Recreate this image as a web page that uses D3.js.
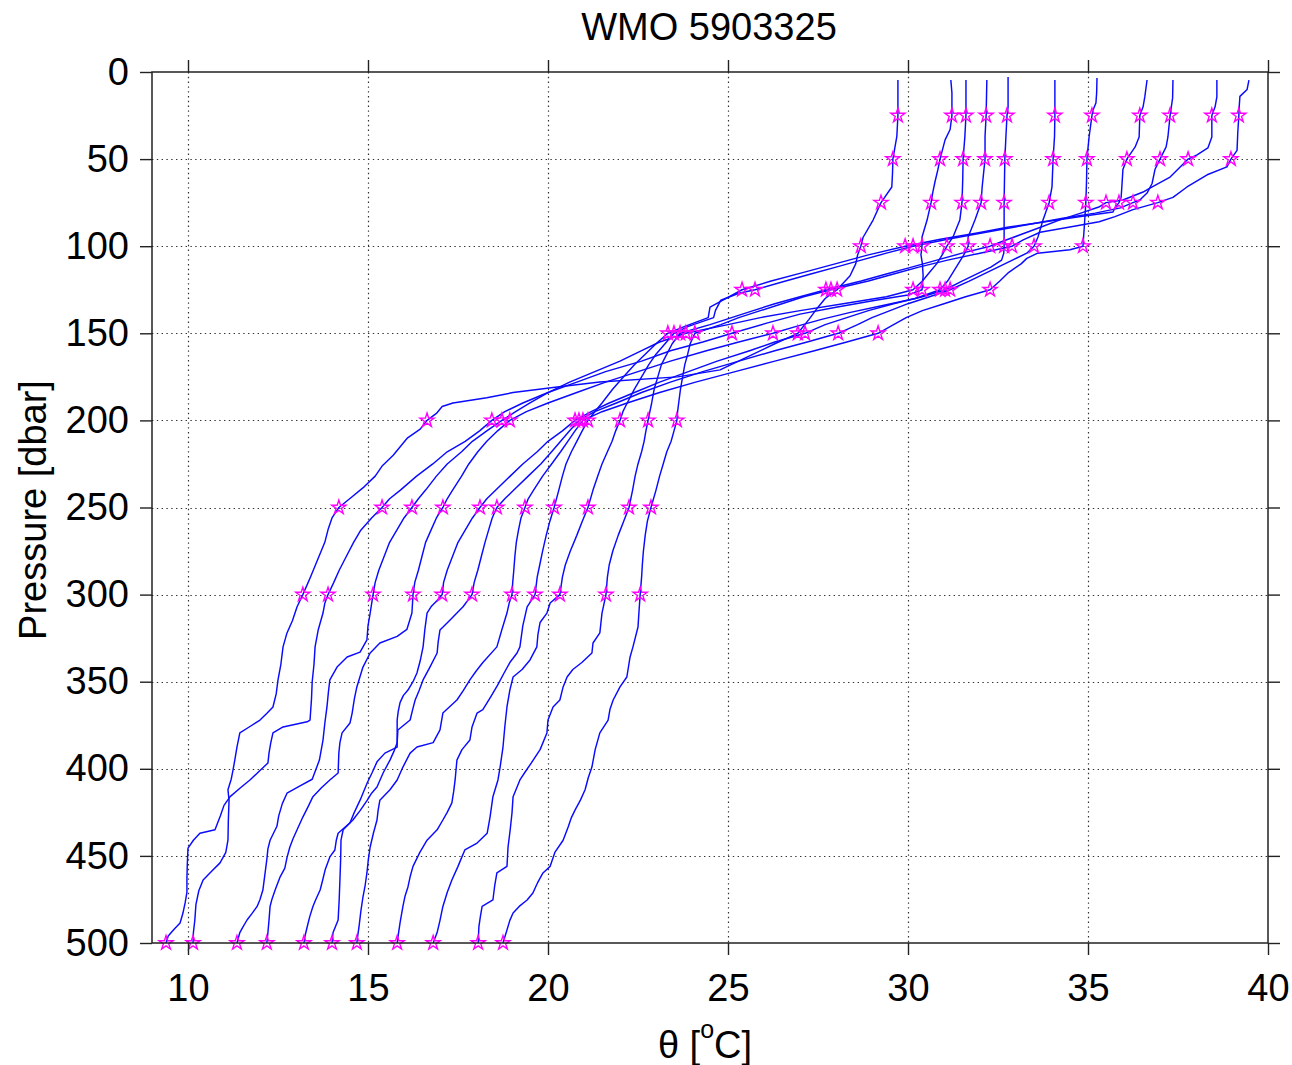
<!DOCTYPE html>
<html><head><meta charset="utf-8">
<script src="https://cdn.jsdelivr.net/npm/d3@7"></script>
<style>
body{margin:0;background:#fff}
svg{display:block}
text{font-family:"Liberation Sans",Arial,Helvetica,sans-serif;fill:#000}
</style>
</head><body>
<svg id="chart" width="1292" height="1065"></svg>
<script>
// ---- data: each profile is [pressure (dbar), theta (°C, plotted)] ----
const title = "WMO 5903325";
const xTicks = [10, 15, 20, 25, 30, 35, 40];
const yTicks = [0, 50, 100, 150, 200, 250, 300, 350, 400, 450, 500];
const starPressures = [25, 50, 75, 100, 125, 150, 200, 250, 300, 500];

const profile1 = [[4.6,29.72],[12,29.72],[25,29.72],[37,29.69],[50,29.58],[58,29.57],[66,29.55],[75,29.25],[85,29.03],[95,28.75],[100,28.69],[105,28.6],[110,28.55],[117,28.39],[125,28.03],[130,27.7],[135,27.5],[142,27.25],[150,26.94],[156,26.3],[163,25.6],[171,24.78],[175,23.6],[178,21.44],[181,20.2],[184,19.03],[187,18.3],[190,17.36],[192,17.06],[196,16.9],[200,16.64],[205,16.45],[210,16.1],[215,15.9],[220,15.7],[226,15.4],[232,15.2],[238,14.9],[244,14.55],[250,14.19],[256,14.0],[262,13.9],[270,13.8],[280,13.6],[290,13.4],[300,13.19],[307,13.03],[315,12.9],[322,12.75],[330,12.64],[340,12.58],[349,12.5],[357,12.45],[364.5,12.36],[368,12.2],[372,12.0],[376,11.7],[379.4,11.44],[387.5,11.36],[395,11.3],[400.7,11.25],[406,11.2],[412,11.11],[418,11.14],[430,11.12],[441,11.11],[448,11.05],[454,10.89],[459,10.65],[463.8,10.42],[470,10.3],[478,10.22],[486.8,10.19],[494,10.15],[500,10.14]];
const profile2 = [[4.6,31.19],[12,31.22],[25,31.22],[33,31.17],[39,31.03],[50,30.89],[56,30.83],[63,30.75],[69,30.69],[75,30.64],[85,30.53],[94.7,30.39],[100,30.39],[105,30.36],[110,30.4],[117,30.42],[122,30.4],[125,30.39],[128,30.0],[131,29.1],[135,28.0],[139,27.0],[144,26.1],[150,25.11],[155,24.3],[160,23.4],[166,22.6],[172,21.6],[178,20.8],[184,20.0],[190,19.3],[195,18.8],[200,18.44],[206,18.1],[212,17.7],[218,17.2],[225,16.8],[232,16.35],[240,15.9],[245,15.6],[250,15.39],[256,15.1],[263,14.8],[270,14.6],[278,14.4],[286,14.2],[293,14.05],[300,13.89],[305,13.8],[310.6,13.75],[320,13.62],[330,13.53],[340,13.5],[350,13.45],[360,13.43],[372,13.39],[373,13.31],[376,12.64],[379.4,12.36],[385,12.3],[391,12.25],[396.7,12.22],[401,12.0],[406.4,11.72],[411,11.45],[416,11.17],[421,11.0],[427,10.9],[435,10.75],[437,10.33],[441,10.15],[445.5,10.0],[455,9.98],[463,9.97],[471,9.97],[477,9.92],[482.8,9.86],[488.5,9.78],[492,9.62],[496,9.45],[500,9.39]];
const profile3 = [[4.6,31.61],[15,31.61],[25,31.61],[37,31.58],[50,31.53],[62,31.52],[75,31.5],[85,31.44],[94.7,31.25],[100,31.08],[105,30.95],[110,30.8],[115,30.6],[120,30.4],[125,30.14],[129,29.4],[133,28.2],[137,27.0],[141,25.9],[145,25.0],[150,23.83],[155,23.1],[160,22.6],[166,22.0],[172,21.3],[178,20.6],[184,20.0],[190,19.5],[195,19.1],[200,18.72],[206,18.3],[212,17.9],[218,17.6],[225,17.2],[232,16.9],[240,16.6],[245,16.4],[250,16.22],[256,16.0],[263,15.8],[270,15.6],[278,15.45],[286,15.3],[293,15.2],[300,15.14],[310.6,15.06],[318,15.0],[326,14.97],[333,14.78],[335.8,14.42],[341.6,14.14],[349,13.94],[356,13.9],[364.5,13.86],[374,13.8],[383.5,13.75],[395,13.65],[406,13.45],[410,13.1],[414,12.75],[420,12.62],[427,12.52],[433,12.47],[441,12.28],[446,12.22],[452,12.19],[460,12.14],[469.6,12.08],[475,12.0],[479,11.92],[483,11.78],[486.8,11.64],[491,11.52],[494,11.44],[500,11.36]];
const profile4 = [[4.6,32.19],[15,32.18],[25,32.17],[37,32.14],[50,32.14],[66,32.06],[75,32.03],[85,31.86],[94.7,31.67],[100,31.67],[105,31.55],[110,31.4],[115,31.25],[120,31.1],[125,30.89],[130,30.2],[134,29.3],[138,28.4],[142,27.6],[146,26.9],[150,26.25],[155,25.3],[160,24.4],[166,23.4],[172,22.5],[178,21.6],[184,20.8],[190,20.0],[195,19.4],[200,18.94],[206,18.6],[212,18.3],[218,18.05],[225,17.8],[232,17.6],[240,17.35],[245,17.2],[250,17.08],[256,16.9],[263,16.75],[270,16.6],[278,16.5],[286,16.4],[293,16.3],[300,16.25],[310.6,16.22],[320,16.08],[324,15.81],[327.8,15.33],[333.5,15.06],[341.6,14.86],[353,14.69],[360,14.62],[368,14.56],[373.7,14.5],[379.4,14.28],[385,14.22],[391,14.19],[402.4,14.17],[406.4,13.94],[411,13.7],[416,13.47],[422,13.33],[427.7,13.19],[435,13.03],[440,12.92],[444.9,12.83],[451,12.75],[457,12.69],[462,12.56],[469.6,12.42],[475,12.33],[479,12.28],[487,12.25],[494,12.22],[500,12.19]];
const profile5 = [[2.9,32.78],[12,32.78],[20,32.78],[25,32.75],[37,32.72],[50,32.69],[62,32.68],[75,32.67],[88,32.67],[100,32.67],[104,32.66],[108,32.6],[112,32.3],[116,31.9],[120,31.5],[125,31.03],[129,30.4],[133,29.6],[137,28.9],[141,28.3],[145,27.7],[150,27.14],[155,26.3],[160,25.6],[166,24.7],[172,23.9],[178,23.1],[184,22.4],[190,21.7],[195,21.2],[200,20.75],[206,20.4],[212,20.0],[218,19.7],[225,19.3],[232,18.95],[240,18.55],[245,18.3],[250,18.11],[256,17.9],[263,17.7],[270,17.5],[278,17.35],[286,17.2],[293,17.1],[300,17.06],[303,16.94],[307,16.75],[310.6,16.64],[320,16.58],[330,16.53],[338,16.45],[345,16.36],[350,16.25],[354.8,16.11],[358,15.98],[362,15.89],[367,15.84],[372,15.81],[380,15.81],[387.5,15.81],[391,15.47],[396,15.25],[402.4,15.11],[408,14.98],[414,14.86],[418,14.78],[425,14.62],[431,14.5],[437,14.17],[441,14.12],[446.6,14.08],[450.6,13.94],[458,13.81],[464,13.74],[469.6,13.67],[475,13.55],[479,13.47],[485,13.38],[490.8,13.31],[496,13.25],[500,13.22]];
const profile6 = [[4.6,34.08],[15,34.08],[25,34.08],[37,34.07],[50,34.03],[66,34.0],[75,33.92],[85,33.75],[94.7,33.61],[100,33.5],[104,33.3],[108,32.9],[112,32.5],[116,32.1],[120,31.7],[125,31.17],[129,30.6],[133,30.0],[137,29.5],[141,29.0],[145,28.6],[150,28.06],[155,27.2],[160,26.3],[166,25.3],[172,24.3],[178,23.4],[184,22.6],[190,21.9],[195,21.3],[200,20.86],[206,20.6],[212,20.35],[218,20.1],[225,19.8],[232,19.45],[240,19.05],[245,18.8],[250,18.58],[256,18.45],[263,18.35],[270,18.25],[278,18.15],[286,18.05],[293,17.95],[300,17.89],[307,17.64],[314.6,17.28],[320.3,17.0],[327,16.95],[333.5,16.92],[341.6,16.72],[349,16.53],[355,16.42],[360.5,16.31],[366,16.24],[372,16.17],[377.7,15.83],[385,15.81],[390,15.72],[395,15.61],[402.4,15.42],[410.4,15.25],[414,15.1],[418,14.98],[424,14.78],[429.4,14.58],[435,14.31],[441,14.25],[452,14.24],[463.8,14.22],[475,14.2],[486.8,14.17],[494,14.03],[500,14.0]];
const profile7 = [[3.4,35.25],[12,35.24],[17.8,35.22],[21.8,35.14],[25,35.11],[37.3,35.03],[50,34.97],[62,34.96],[75,34.94],[88,34.9],[100,34.86],[102,34.5],[104,33.6],[107,33.3],[110,33.15],[115,32.8],[120,32.55],[125,32.28],[129,31.6],[133,31.0],[137,30.4],[141,29.95],[145,29.6],[150,29.17],[155,28.3],[160,27.4],[166,26.3],[172,25.2],[178,24.1],[184,23.1],[190,22.2],[195,21.5],[200,20.97],[206,20.75],[212,20.55],[218,20.35],[225,20.1],[232,19.85],[240,19.6],[245,19.45],[250,19.36],[256,19.25],[263,19.18],[270,19.12],[278,19.08],[286,19.05],[293,19.02],[300,19.0],[305,18.92],[310.6,18.86],[320,18.72],[330,18.58],[339,18.19],[344,18.0],[349,17.83],[355,17.65],[360.5,17.47],[368,17.08],[377.7,17.0],[385,16.81],[387.5,16.36],[391,16.17],[399,15.97],[406.4,15.81],[412,15.61],[418,15.33],[424,15.28],[429.4,15.25],[437,15.15],[444.9,15.06],[452,15.01],[459.8,14.97],[467,14.92],[473.6,14.86],[482,14.8],[490.8,14.75],[495,14.72],[500,14.69]];
const profile8 = [[4.6,36.64],[14,36.58],[20,36.53],[25,36.44],[37.3,36.42],[43,36.31],[49,36.11],[50,36.08],[56,35.97],[66,35.94],[72,35.92],[75,35.86],[78,35.75],[80.4,35.69],[83,34.8],[86.7,33.58],[89,32.8],[92.4,31.92],[96,30.9],[100,29.92],[105,28.9],[110,28.0],[115,27.1],[120,26.2],[125,25.39],[130,24.95],[135,24.5],[141,24.45],[146,23.8],[150,23.33],[156,23.0],[162,22.7],[168,22.4],[175,22.1],[182,21.8],[190,21.5],[195,21.3],[200,21.11],[206,20.95],[212,20.8],[218,20.65],[225,20.5],[232,20.4],[240,20.3],[250,20.17],[258,20.05],[266,19.95],[275,19.85],[283,19.77],[290,19.7],[300,19.64],[307,19.42],[318,19.3],[330,19.22],[333.5,19.14],[339,18.94],[345,18.78],[352,18.6],[359,18.4],[366,18.19],[368,18.03],[376,17.89],[383.5,17.83],[389,17.61],[395,17.47],[406.4,17.42],[413,17.38],[419.6,17.33],[425,17.2],[429.4,17.08],[435,16.92],[441,16.64],[448,16.44],[456,16.25],[462,16.17],[467.8,16.11],[473,16.03],[479,15.97],[488.5,15.89],[494,15.85],[500,15.81]];
const profile9 = [[4.6,37.36],[15,37.35],[25,37.28],[37.3,37.22],[43,37.17],[50,37.0],[56,36.86],[64,36.78],[69.5,36.64],[73.5,36.44],[75,36.25],[78,35.9],[81,35.2],[84,34.3],[87,33.5],[90,32.7],[93,31.9],[96,31.1],[100,30.14],[104,29.4],[108,28.7],[112,28.0],[116,27.3],[120,26.6],[125,25.75],[127,25.3],[131,24.8],[137,24.65],[141,24.6],[146,23.9],[150,23.5],[156,23.25],[162,23.0],[168,22.8],[175,22.6],[182,22.4],[190,22.2],[195,22.08],[200,22.0],[206,21.88],[212,21.78],[218,21.65],[225,21.5],[232,21.38],[240,21.25],[250,21.11],[258,20.95],[266,20.8],[275,20.62],[283,20.48],[290,20.4],[300,20.33],[304.8,20.06],[310.6,19.97],[316,19.78],[323,19.72],[330,19.69],[337.5,19.5],[343,19.28],[347.3,19.03],[354.8,18.94],[364.5,18.86],[376,18.8],[387.5,18.75],[399,18.67],[406.4,18.61],[416,18.47],[427.7,18.39],[437,18.31],[442.6,18.03],[446.6,17.69],[451,17.6],[456,17.5],[463.8,17.33],[471,17.2],[479,17.08],[487,17.0],[494,16.92],[500,16.81]];
const profile10 = [[4.6,38.58],[14.3,38.58],[20,38.53],[25,38.44],[37.3,38.44],[43.6,38.33],[47.6,38.03],[50,37.78],[54.5,37.56],[60.3,37.28],[66.6,36.72],[68.9,36.53],[73.5,35.97],[75,35.5],[77.5,35.3],[81,34.8],[85,34.2],[89,33.7],[93.6,33.1],[97,32.65],[100,32.28],[104,31.5],[108,30.8],[112,30.1],[116,29.4],[120,28.7],[125,27.72],[129,27.0],[133,26.3],[137,25.7],[141,25.1],[145,24.5],[150,23.67],[156,23.45],[162,23.3],[168,23.15],[175,23.05],[182,22.95],[190,22.88],[195,22.83],[200,22.78],[206,22.72],[212,22.67],[218,22.6],[225,22.5],[232,22.42],[240,22.35],[250,22.25],[258,22.1],[266,21.95],[275,21.8],[283,21.7],[290,21.65],[300,21.61],[310.6,21.5],[322,21.44],[327.8,21.25],[333.5,21.22],[339,20.94],[343,20.69],[347.3,20.53],[353,20.42],[360.5,20.33],[364.5,20.14],[372,20.0],[379.4,19.97],[389,19.78],[397.8,19.5],[402,19.36],[406.4,19.22],[416,19.03],[425.4,19.0],[435,18.95],[444.9,18.89],[456,18.86],[459.8,18.58],[467,18.52],[475.3,18.47],[479,18.17],[485,18.12],[490.8,18.08],[500,18.06]];
const profile11 = [[4.6,39.47],[10,39.42],[14,39.22],[20,39.2],[25,39.19],[35,39.16],[45,39.14],[50,38.97],[54.5,38.86],[59,38.31],[66,37.75],[72,37.36],[75,36.94],[79,36.25],[83,35.75],[86,35.31],[89,34.5],[92,33.67],[96.4,33.2],[100,32.89],[104,32.0],[108,31.1],[112,30.3],[116,29.6],[120,28.9],[125,27.86],[129,27.1],[133,26.5],[137,25.9],[141,25.3],[145,24.8],[150,24.08],[156,23.95],[162,23.88],[168,23.8],[175,23.74],[182,23.68],[190,23.63],[195,23.6],[200,23.58],[206,23.5],[212,23.42],[218,23.3],[225,23.2],[232,23.1],[240,23.0],[250,22.86],[258,22.76],[266,22.7],[275,22.65],[283,22.62],[290,22.6],[300,22.56],[309,22.53],[318.6,22.5],[330,22.36],[335.8,22.28],[347.3,22.19],[353,22.0],[360.5,21.81],[366,21.72],[372,21.67],[379.4,21.44],[389,21.31],[399,21.22],[405,21.12],[412,21.03],[418,20.9],[423.7,20.75],[428,20.65],[433.4,20.56],[441,20.42],[448,20.19],[456,20.06],[459.8,19.86],[465,19.72],[471.3,19.58],[475.3,19.42],[479,19.2],[482.8,19.03],[487,18.94],[492.5,18.86],[500,18.75]];

const profiles = [profile1, profile2, profile3, profile4, profile5, profile6,
                  profile7, profile8, profile9, profile10, profile11];

// ---- drawing ----
const svg = d3.select("#chart");
const L = 152, R = 1268, T = 72, B = 943;
const x = d3.scaleLinear().domain([9, 40]).range([L, R]);
const y = d3.scaleLinear().domain([0, 500]).range([T, B]);
const fs = 38;

// grid
const grid = svg.append("g").attr("stroke", "#333").attr("stroke-width", 1.2)
  .attr("stroke-dasharray", "1.4,3.4");
grid.selectAll("line.vx").data(xTicks.filter(d => d < 40)).enter().append("line")
  .attr("x1", d => Math.round(x(d)) + 0.5).attr("x2", d => Math.round(x(d)) + 0.5)
  .attr("y1", T).attr("y2", B);
grid.selectAll("line.hy").data(yTicks.filter(d => d > 0 && d < 500)).enter().append("line")
  .attr("x1", L).attr("x2", R)
  .attr("y1", d => Math.round(y(d)) + 0.5).attr("y2", d => Math.round(y(d)) + 0.5);

// profiles
const line = d3.line().x(d => x(d[1])).y(d => y(d[0]));
svg.append("g").selectAll("path").data(profiles).enter().append("path")
  .attr("d", line).attr("fill", "none").attr("stroke", "#0a0aff")
  .attr("stroke-width", 1.45).attr("stroke-linejoin", "round");

// stars
const starPath = d3.symbol().type(d3.symbolStar).size(62)();
const starPts = profiles.flatMap(pr => pr.filter(d => starPressures.includes(d[0])));
svg.append("g").selectAll("path").data(starPts).enter().append("path")
  .attr("d", starPath)
  .attr("transform", d => `translate(${x(d[1])},${y(d[0])})`)
  .attr("fill", "none").attr("stroke", "#ff00ff").attr("stroke-width", 1.4);

// axes
function styleAxis(g) {
  g.select(".domain").remove();
  g.selectAll(".tick line").attr("stroke", "#222").attr("stroke-width", 1.4);
  g.selectAll(".tick text").attr("font-size", fs)
    .attr("font-family", '"Liberation Sans",Arial,sans-serif').attr("fill", "#000");
}
svg.append("g").attr("transform", `translate(0,${B})`)
  .call(d3.axisBottom(x).tickValues(xTicks).tickSize(12).tickPadding(19).tickFormat(d3.format("d")))
  .call(styleAxis);
svg.append("g").attr("transform", `translate(0,${T})`)
  .call(d3.axisTop(x).tickValues(xTicks).tickSize(12).tickFormat(""))
  .call(styleAxis);
svg.append("g").attr("transform", `translate(${L},0)`)
  .call(d3.axisLeft(y).tickValues(yTicks).tickSize(12).tickPadding(11).tickFormat(d3.format("d")))
  .call(styleAxis);
svg.append("g").attr("transform", `translate(${R},0)`)
  .call(d3.axisRight(y).tickValues(yTicks).tickSize(12).tickFormat(""))
  .call(styleAxis);

// frame
svg.append("rect").attr("x", L).attr("y", T).attr("width", R - L).attr("height", B - T)
  .attr("fill", "none").attr("stroke", "#222").attr("stroke-width", 1.5);

// title
svg.append("text").attr("x", 709).attr("y", 40).attr("text-anchor", "middle")
  .attr("font-size", fs).text(title);

// x label
const xl = svg.append("text").attr("x", 705).attr("y", 1058).attr("text-anchor", "middle")
  .attr("font-size", fs);
xl.append("tspan").text("θ [");
xl.append("tspan").attr("font-size", 25).attr("dy", -20).text("o");
xl.append("tspan").attr("dy", 20).text("C]");

// y label
svg.append("text").attr("transform", "translate(46,510) rotate(-90)")
  .attr("text-anchor", "middle").attr("font-size", fs).text("Pressure [dbar]");
</script>
</body></html>
